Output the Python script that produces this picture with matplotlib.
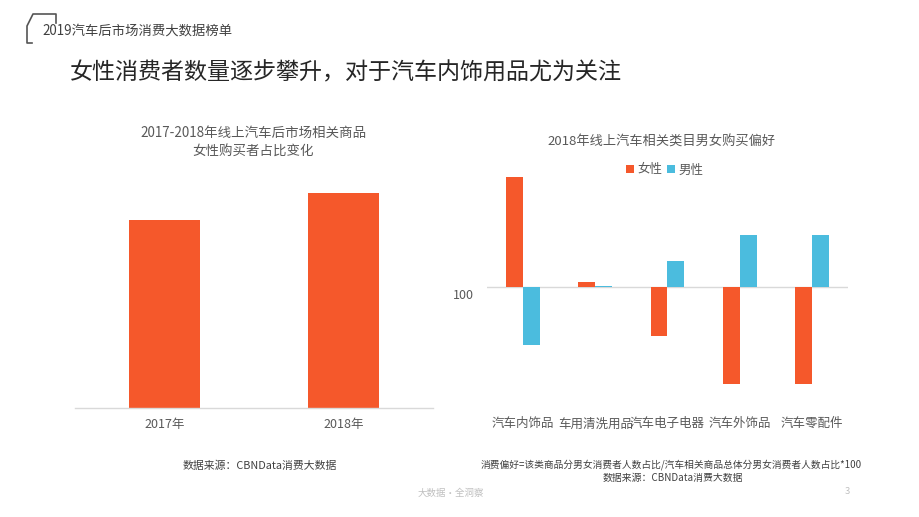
import matplotlib
matplotlib.use("Agg")
import matplotlib.pyplot as plt
from matplotlib.lines import Line2D

plt.rcParams['font.family'] = ['Noto Sans CJK SC', 'DejaVu Sans']

# left chart: share of female buyers
years = ["2017年", "2018年"]
female_share = [35.0, 40.0]

# right chart: preference index (100 = average)
categories = ["汽车内饰品", "车用清洗用品", "汽车电子电器", "汽车外饰品", "汽车零配件"]
female_pref = [154.8, 102.7, 75.7, 51.7, 51.7]
male_pref = [71.2, 100.3, 113.2, 125.8, 125.8]

ORANGE = "#F5582B"
BLUE = "#4BBCDE"
GRAY_TEXT = "#595959"

W, H = 920, 517
fig = plt.figure(figsize=(W / 100, H / 100), dpi=100)


def fx(px):
    return px / W


def fy(py):
    return 1 - py / H


def box(x0, y0, x1, y1):
    # pixel box (top-left origin) -> axes rect
    return [fx(x0), fy(y1), fx(x1) - fx(x0), fy(y0) - fy(y1)]


# header bracket
fig.add_artist(Line2D([fx(v) for v in [32, 27, 27, 33, 56, 56]],
                      [fy(v) for v in [43, 43, 26, 14, 14, 23]],
                      color="#555555", lw=1.2))
fig.text(fx(42), fy(31), "2019汽车后市场消费大数据榜单", fontsize=9.6,
         color="#404040", va="center", ha="left")
fig.text(fx(70), fy(73), "女性消费者数量逐步攀升，对于汽车内饰用品尤为关注",
         fontsize=16.6, color="#262626", va="center", ha="left")

# left chart
ax1 = fig.add_axes(box(75, 193, 433, 408))
ax1.bar(range(len(years)), female_share, width=0.4, color=ORANGE)
ax1.set_xlim(-0.5, 1.5)
ax1.set_ylim(0, max(female_share))
ax1.set_xticks(range(len(years)))
ax1.set_xticklabels(years, fontsize=9, color=GRAY_TEXT)
ax1.tick_params(axis='x', length=0, pad=7)
ax1.set_yticks([])
for s in ["top", "left", "right"]:
    ax1.spines[s].set_visible(False)
ax1.spines["bottom"].set_color("#d9d9d9")
ax1.spines["bottom"].set_linewidth(1.0)
ax1.patch.set_alpha(0)

fig.text(fx(253), fy(133), "2017-2018年线上汽车后市场相关商品", fontsize=9.7,
         color=GRAY_TEXT, ha="center", va="center")
fig.text(fx(253), fy(152), "女性购买者占比变化", fontsize=9.7,
         color=GRAY_TEXT, ha="center", va="center")

# right chart
ax2 = fig.add_axes(box(487, 170, 848, 400))
xs = list(range(len(categories)))
bw = 0.235
ax2.bar([x - bw / 2 for x in xs], [v - 100 for v in female_pref], bottom=100,
        width=bw, color=ORANGE, label="女性")
ax2.bar([x + bw / 2 for x in xs], [v - 100 for v in male_pref], bottom=100,
        width=bw, color=BLUE, label="男性")
ax2.axhline(100, color="#d9d9d9", lw=1.0, zorder=0)
ax2.set_xlim(-0.5, 4.5)
ax2.set_ylim(100 - (400 - 287) * 0.5, 100 + (287 - 170) * 0.5)
ax2.set_xticks(xs)
ax2.set_xticklabels(categories, fontsize=9, color=GRAY_TEXT)
ax2.tick_params(axis='x', length=0, pad=12.5)
ax2.set_yticks([])
for s in ax2.spines.values():
    s.set_visible(False)
ax2.patch.set_alpha(0)
ax2.annotate("100", xy=(0, 100), xycoords=("axes fraction", "data"),
             xytext=(-17, -6), textcoords="offset points", fontsize=9,
             color=GRAY_TEXT, ha="center", va="center")

fig.text(fx(662), fy(142), "2018年线上汽车相关类目男女购买偏好", fontsize=9.5,
         color=GRAY_TEXT, ha="center", va="center")
ax2.legend(loc="center", bbox_to_anchor=(fx(665), fy(170)),
           bbox_transform=fig.transFigure, ncol=2, frameon=False,
           fontsize=9, labelcolor=GRAY_TEXT, handlelength=0.6,
           handleheight=0.6, handletextpad=0.3, columnspacing=0.4)

# footers
fig.text(fx(260), fy(466), "数据来源：CBNData消费大数据", fontsize=7.8,
         color="#404040", ha="center", va="center")
fig.text(fx(671), fy(465),
         "消费偏好=该类商品分男女消费者人数占比/汽车相关商品总体分男女消费者人数占比*100",
         fontsize=7.0, color="#404040", ha="center", va="center")
fig.text(fx(673), fy(478), "数据来源：CBNData消费大数据", fontsize=7.1,
         color="#404040", ha="center", va="center")
fig.text(fx(451), fy(493), "大数据·全洞察", fontsize=6.8,
         color="#c0c0c0", ha="center", va="center")
fig.text(fx(847), fy(492), "3", fontsize=6.8,
         color="#c0c0c0", ha="center", va="center")

fig.savefig("out.png", dpi=100)
